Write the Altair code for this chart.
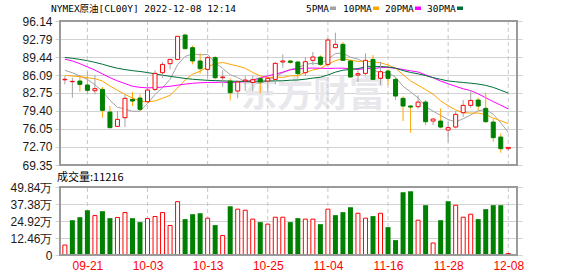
import json
import altair as alt
import pandas as pd

# ---------------- data ----------------
dates = ["09-16", "09-19", "09-20", "09-21", "09-22", "09-23", "09-26", "09-27", "09-28", "09-29",
         "09-30", "10-03", "10-04", "10-05", "10-06", "10-07", "10-10", "10-11", "10-12", "10-13",
         "10-14", "10-17", "10-18", "10-19", "10-20", "10-21", "10-24", "10-25", "10-26", "10-27",
         "10-28", "10-31", "11-01", "11-02", "11-03", "11-04", "11-07", "11-08", "11-09", "11-10",
         "11-11", "11-14", "11-15", "11-16", "11-17", "11-18", "11-21", "11-22", "11-23", "11-24",
         "11-25", "11-28", "11-29", "11-30", "12-01", "12-02", "12-05", "12-06", "12-07", "12-08"]

opens = [85.20, 84.85, 84.97, 84.23, 83.17, 83.42, 79.20, 76.54, 78.15, 81.56,
         81.81, 81.13, 83.42, 86.52, 88.20, 89.00, 93.53, 91.18, 88.70, 87.14,
         89.32, 85.59, 84.97, 83.11, 84.97, 84.72, 85.41, 84.97, 85.28, 88.51,
         88.70, 88.51, 86.52, 88.82, 89.44, 88.07, 91.18, 91.80, 88.70, 86.09,
         86.40, 89.00, 85.47, 86.83, 85.28, 81.75, 80.32, 80.20, 81.06, 77.53,
         77.53, 75.85, 76.41, 79.08, 80.44, 81.44, 79.89, 77.34, 74.55, 72.38]
highs = [85.90, 85.59, 86.09, 86.71, 86.09, 83.86, 80.32, 79.39, 82.37, 82.93,
         82.49, 84.60, 86.96, 88.51, 89.13, 93.35, 93.78, 91.61, 90.12, 89.63,
         89.63, 86.96, 85.47, 85.10, 85.90, 85.90, 85.59, 86.21, 88.51, 89.94,
         88.88, 88.70, 89.44, 90.37, 89.75, 93.04, 93.97, 92.23, 88.88, 86.96,
         90.12, 89.81, 88.57, 87.27, 85.72, 82.12, 80.44, 82.30, 81.44, 78.02,
         79.89, 77.34, 79.39, 81.44, 83.30, 81.87, 82.80, 77.96, 75.23, 72.69]
lows = [84.35, 81.87, 82.99, 82.62, 82.49, 78.15, 76.29, 76.41, 76.41, 80.32,
        79.39, 80.94, 83.11, 85.59, 87.14, 88.88, 90.87, 88.07, 86.34, 85.59,
        85.28, 83.92, 81.37, 81.75, 83.11, 83.11, 82.62, 83.11, 84.35, 87.45,
        88.20, 85.47, 85.90, 87.89, 87.76, 87.64, 91.05, 88.70, 85.59, 84.79,
        86.09, 85.10, 84.23, 84.23, 81.44, 77.53, 75.36, 79.82, 76.78, 76.78,
        76.16, 73.68, 76.16, 78.27, 80.01, 79.51, 77.22, 73.68, 71.63, 72.07]
closes = [85.30, 84.91, 84.35, 83.24, 83.55, 79.51, 76.29, 77.84, 81.75, 81.25,
          79.70, 83.30, 86.40, 88.07, 89.00, 93.29, 90.99, 88.70, 87.27, 89.32,
          85.59, 85.72, 82.80, 84.79, 85.16, 85.22, 84.79, 85.47, 88.26, 88.70,
          88.45, 86.34, 88.57, 89.44, 88.07, 92.60, 91.80, 88.82, 85.72, 86.34,
          88.82, 85.28, 86.71, 85.47, 82.18, 80.32, 80.13, 81.06, 77.40, 77.90,
          76.41, 76.30, 78.77, 80.44, 81.37, 80.32, 77.40, 74.43, 72.38, 72.63]
# volume in 万
vols = [7.3, 25.5, 27.7, 32.8, 28.9, 32.1, 27.0, 27.5, 31.1, 27.0,
        24.1, 26.7, 28.2, 31.1, 21.6, 39.1, 26.3, 29.9, 30.6, 27.0,
        21.9, 14.3, 35.7, 33.6, 32.8, 26.3, 24.1, 22.6, 27.7, 27.7,
        24.1, 27.0, 26.3, 26.3, 22.6, 33.6, 29.2, 31.4, 35.0, 30.6,
        27.0, 28.5, 30.6, 20.4, 10.9, 46.0, 46.7, 25.5, 36.5, 8.8,
        25.5, 39.4, 36.5, 27.7, 29.9, 26.3, 33.6, 36.5, 36.5, 1.12]

ma5 = [86.96, 86.52, 85.90, 85.28, 84.27, 83.11, 81.39, 80.09, 79.79, 79.33,
       79.37, 80.77, 82.48, 83.74, 85.29, 88.01, 89.55, 90.01, 89.85, 89.91,
       88.37, 87.32, 86.14, 85.64, 84.81, 84.74, 84.55, 85.09, 85.78, 86.49,
       87.13, 87.44, 88.06, 88.30, 88.17, 89.00, 90.10, 90.15, 89.40, 89.06,
       88.30, 87.00, 86.57, 86.52, 85.69, 83.99, 82.96, 81.83, 80.22, 79.36,
       78.58, 77.81, 77.36, 77.96, 78.66, 79.44, 79.66, 78.79, 77.18, 75.43]
ma10 = [86.03, 85.90, 85.78, 85.59, 85.41, 84.97, 84.04, 83.24, 82.49, 81.80,
        81.24, 81.08, 81.28, 81.77, 82.31, 83.69, 85.16, 86.25, 86.80, 87.60,
        88.19, 88.44, 88.08, 87.75, 87.36, 86.56, 85.94, 85.61, 85.71, 85.65,
        85.94, 86.00, 86.58, 87.04, 87.33, 88.07, 88.77, 89.11, 88.85, 88.62,
        88.65, 88.55, 88.36, 87.96, 87.37, 86.15, 84.98, 84.20, 83.37, 82.53,
        81.29, 80.39, 79.59, 79.09, 79.01, 79.01, 78.74, 78.07, 77.57, 77.05]
ma20 = [89.05, 88.70, 88.20, 87.60, 87.00, 86.30, 85.60, 85.00, 84.50, 84.00,
        83.80, 83.70, 83.75, 83.85, 84.00, 84.20, 84.40, 84.55, 84.65, 84.70,
        84.72, 84.76, 84.68, 84.76, 84.84, 85.12, 85.55, 85.93, 86.25, 86.63,
        87.06, 87.22, 87.33, 87.39, 87.35, 87.31, 87.35, 87.36, 87.28, 87.13,
        87.29, 87.27, 87.47, 87.50, 87.35, 87.11, 86.87, 86.65, 86.11, 85.57,
        84.97, 84.47, 83.98, 83.53, 83.19, 82.58, 81.86, 81.14, 80.47, 79.79]
ma30 = [89.35, 89.20, 89.00, 88.75, 88.45, 88.10, 87.70, 87.35, 87.10, 86.90,
        86.75, 86.55, 86.30, 86.05, 85.85, 85.65, 85.45, 85.30, 85.20, 85.10,
        85.05, 85.00, 84.95, 84.92, 84.90, 84.92, 84.95, 84.98, 85.00, 85.02,
        85.12, 85.17, 85.31, 85.52, 85.67, 86.10, 86.62, 86.99, 87.12, 87.29,
        87.59, 87.66, 87.67, 87.58, 87.36, 86.92, 86.56, 86.31, 85.98, 85.60,
        85.29, 84.98, 84.84, 84.70, 84.57, 84.41, 84.16, 83.79, 83.26, 82.73]

ma_names = ["5PMA", "10PMA", "20PMA", "30PMA"]
ma_colors = ["#a3a3a3", "#ffa500", "#ff00ff", "#00703a"]
tick_idx = [3, 11, 19, 27, 35, 43, 51, 59]
price_ticks = [69.35, 72.70, 76.05, 79.40, 82.75, 86.09, 89.44, 92.79, 96.14]
vol_ticks = [0, 12.46, 24.92, 37.38, 49.84]
title_text = "NYMEX原油[CL00Y] 2022-12-08 12:14"
vol_title = "成交量:11216"
watermark = "东方财富"

# ---------------- tables ----------------
n = len(closes)
prev_close = [closes[0]] + closes[:-1]
df = pd.DataFrame({"i": list(range(n)), "date": dates, "open": opens, "high": highs,
                   "low": lows, "close": closes, "vol": vols})
df["up"] = [c >= o for c, o in zip(closes, opens)]
df["vup"] = [c >= p for c, p in zip(closes, prev_close)]

ma_df = pd.concat([
    pd.DataFrame({"i": list(range(n)), "v": vals, "name": nm})
    for nm, vals in zip(ma_names, [ma5, ma10, ma20, ma30])
])
ticks_df = pd.DataFrame({"i": tick_idx})

RED = "#ff0000"
GREEN = "#008000"
FONT = "Liberation Sans"
CJK = "Noto Sans CJK SC"
MONO = "DejaVu Sans Mono, Noto Sans CJK SC"

xs = alt.Scale(domain=[-0.646, 60.16], nice=False, zero=False)
ps = alt.Scale(domain=[price_ticks[0], price_ticks[-1]], range=[144, 0], nice=False, zero=False)
vs = alt.Scale(domain=[vol_ticks[0], vol_ticks[-1]], range=[234, 166], nice=False, zero=False)

x_axis = alt.Axis(values=tick_idx, labelExpr=json.dumps(dates) + "[datum.value]", grid=False,
                  ticks=False, domain=False, labelPadding=5, labelColor=RED, labelFontSize=12,
                  labelFont=FONT, title=None, labelFlush=False)
X = alt.X("i:Q", scale=xs, axis=x_axis)

p_axis = alt.Axis(values=price_ticks, format=".2f", grid=True, gridColor="#d2d2d2", domain=False,
                  ticks=False, labelPadding=3, labelFontSize=12, labelFont=FONT, labelColor="#1a1a1a",
                  title=None, orient="left")
v_axis = alt.Axis(values=vol_ticks,
                  labelExpr="datum.value == 0 ? '0' : format(datum.value, '.2f') + '万'",
                  grid=True, gridColor="#d2d2d2", domain=False, ticks=False, labelPadding=3,
                  labelFontSize=12, labelFont=FONT, labelColor="#1a1a1a", title=None, orient="left")

# ---------------- price panel ----------------
base = alt.Chart(df)
p_grid_v = alt.Chart(ticks_df).mark_rule(color="#c8c8c8", strokeDash=[4, 3], strokeWidth=1).encode(
    x=X, y=alt.Y(datum=price_ticks[0], scale=ps, axis=p_axis), y2=alt.datum(price_ticks[-1]))
wicks = base.mark_rule(strokeWidth=1).encode(
    x=X, y=alt.Y("low:Q", scale=ps, axis=p_axis), y2="high:Q",
    color=alt.Color("up:N", scale=alt.Scale(domain=[True, False], range=[RED, GREEN]), legend=None))
body_up = base.transform_filter("datum.up").mark_bar(size=4, fill="white", stroke=RED, strokeWidth=1).encode(
    x=X, y=alt.Y("open:Q", scale=ps, axis=p_axis), y2="close:Q")
body_dn = base.transform_filter("!datum.up").mark_bar(size=4, fill=GREEN, stroke=GREEN, strokeWidth=1).encode(
    x=X, y=alt.Y("open:Q", scale=ps, axis=p_axis), y2="close:Q")
ma_lines = alt.Chart(ma_df).mark_line(strokeWidth=1).encode(
    x=X, y=alt.Y("v:Q", scale=ps, axis=p_axis),
    color=alt.Color("name:N", scale=alt.Scale(domain=ma_names, range=ma_colors), legend=None),
    detail="name:N")
p_border = alt.Chart(ticks_df).mark_rect(fillOpacity=0, stroke="#9a9a9a", strokeWidth=1.5).encode(
    x=alt.X(datum=xs.domain[0], scale=xs, axis=x_axis), x2=alt.datum(xs.domain[1]),
    y=alt.Y(datum=price_ticks[0], scale=ps, axis=p_axis), y2=alt.datum(price_ticks[-1]))
price = alt.layer(p_grid_v, ma_lines, wicks, body_up, body_dn, p_border)

# ---------------- volume panel ----------------
v_grid_v = alt.Chart(ticks_df).mark_rule(color="#c8c8c8", strokeDash=[4, 3], strokeWidth=1).encode(
    x=X, y=alt.Y(datum=vol_ticks[0], scale=vs, axis=v_axis), y2=alt.datum(vol_ticks[-1]))
vol_up = base.transform_filter("datum.vup").mark_bar(size=4, fill="white", stroke=RED, strokeWidth=1).encode(
    x=X, y=alt.Y("vol:Q", scale=vs, axis=v_axis))
vol_dn = base.transform_filter("!datum.vup").mark_bar(size=5, color=GREEN).encode(
    x=X, y=alt.Y("vol:Q", scale=vs, axis=v_axis))
v_border = alt.Chart(ticks_df).mark_rect(fillOpacity=0, stroke="#9a9a9a", strokeWidth=1.5).encode(
    x=alt.X(datum=xs.domain[0], scale=xs, axis=x_axis), x2=alt.datum(xs.domain[1]),
    y=alt.Y(datum=vol_ticks[0], scale=vs, axis=v_axis), y2=alt.datum(vol_ticks[-1]))
volume = alt.layer(v_grid_v, vol_up, vol_dn, v_border)

# ---------------- texts ----------------
one = pd.DataFrame({"t": [0]})
wm = alt.Chart(one).mark_text(text=watermark, fontSize=36, font=CJK, fontWeight="bold",
                              color="#e8e8ec", align="center", baseline="middle").encode(
    x=alt.value(258), y=alt.value(75))
title = alt.Chart(one).mark_text(text=title_text, fontSize=9.5, font=MONO, color="#000000",
                                 align="left", baseline="middle").encode(
    x=alt.value(-4), y=alt.value(-12))
vtitle = alt.Chart(one).mark_text(text=vol_title, fontSize=11, font=CJK, color="#000000",
                                  align="left", baseline="middle").encode(
    x=alt.value(2), y=alt.value(157))
legend_layers = []
text_x = [251, 288, 330, 372]
sq_x = [275, 318, 360, 402]
for nm, col, tx, sx in zip(ma_names, ma_colors, text_x, sq_x):
    legend_layers.append(alt.Chart(one).mark_text(text=nm, fontSize=9.5, font=MONO, color="#000000",
                                                  align="left", baseline="middle").encode(
        x=alt.value(tx), y=alt.value(-12)))
    legend_layers.append(alt.Chart(one).mark_rect(color=col).encode(
        x=alt.value(sx), x2=alt.value(sx + 6), y=alt.value(-14.5), y2=alt.value(-11)))

chart = alt.layer(wm, price, volume, title, vtitle, *legend_layers).resolve_scale(
    y="independent"
).properties(
    width=467, height=234, autosize="none",
    padding={"left": 55, "top": 21, "right": 56, "bottom": 21},
    background="white"
).configure_view(stroke=None)

chart.save("out.html", embed_options={"renderer": "svg", "actions": False})
